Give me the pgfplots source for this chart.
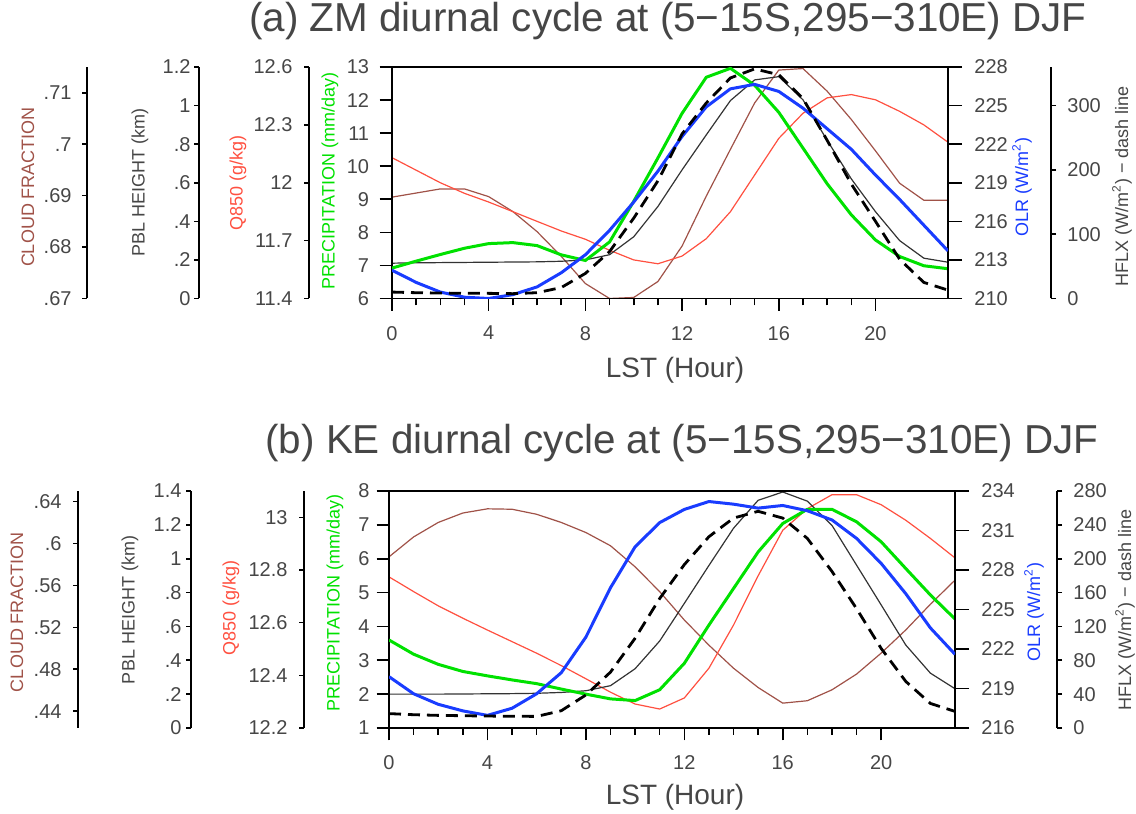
\documentclass[border=0pt]{standalone}
\usepackage{fontspec}
\setmainfont{Liberation Sans}
\usepackage{pgfplots}
\pgfplotsset{compat=1.18}
\usepackage{pgfplotstable}

\definecolor{cfbrown}{RGB}{160,82,72}
\definecolor{qred}{RGB}{255,80,64}
\definecolor{prgreen}{RGB}{0,225,0}
\definecolor{olrblue}{RGB}{25,60,255}
\definecolor{txtgray}{RGB}{70,70,70}

% ZM run, DJF, 5-15S 295-310E
\pgfplotstableread{
h  cld    pbl   q      pr     olr     hf
0  .6897  .183  12.13  6.92   212.2   10
1  .6905  .185  12.065 7.13   211.25  9
2  .6913  .186  12.0   7.33   210.5   8.5
3  .6913  .187  11.945 7.52   210.1   8
4  .6898  .188  11.9   7.66   210.0   8
5  .6869  .189  11.85  7.69   210.3   7.5
6  .683   .190  11.8   7.6    210.9   9
7  .6782  .193  11.75  7.32   212.0   17
8  .6729  .20   11.707 7.15   213.4   39
9  .6700  .227  11.65  7.71   215.3   73
10 .6702  .32   11.60  8.94   217.5   125
11 .6733  .477  11.58  10.25  219.9   183
12 .6802  .667  11.62  11.6   222.6   256
13 .6899  .848  11.71  12.69  224.9   304
14 .699   1.026 11.85  12.96  226.3   343
15 .708   1.133 12.04  12.45  226.65  357
16 .7144  1.15  12.23  11.63  226.1   348
17 .7147  1.03  12.36  10.55  224.8   311
18 .7103  .82   12.44  9.47   223.2   246
19 .7048  .62   12.457 8.53   221.6   178
20 .6987  .45   12.43  7.77   219.6   120
21 .6924  .30   12.37  7.27   217.7   61
22 .6891  .209  12.3   6.99   215.7   25
23 .6891  .188  12.21  6.9    213.7   13
}\zmdata

% KE run
\pgfplotstableread{
h  cld    pbl   q      pr     olr     hf
0  .5872  .20   12.774 3.6    219.9   17
1  .6062  .20   12.718 3.18   218.6   15.7
2  .62    .20   12.664 2.88   217.8   14.9
3  .629   .201  12.617 2.67   217.3   14.5
4  .633   .202  12.572 2.54   216.96  14.1
5  .6326  .203  12.528 2.42   217.5   13.9
6  .6278  .205  12.484 2.31   218.6   13.7
7  .62    .21   12.437 2.15   220.2   20.4
8  .6104  .22   12.387 2.0    222.9   39
9  .5978  .25   12.336 1.86   226.65  66
10 .5777  .35   12.291 1.81   229.76  106
11 .554   .514  12.272 2.13   231.6   153
12 .527   .736  12.314 2.91   232.6   193
13 .503   .96   12.427 4.04   233.2   226
14 .481   1.18  12.591 5.12   233.0   248
15 .4626  1.345 12.778 6.2    232.7   256
16 .4477  1.394 12.951 7.04   232.9   248
17 .45    1.34  13.033 7.46   232.5   224
18 .4604  1.197 13.086 7.46   231.8   185
19 .4754  .962  13.086 7.09   230.4   141
20 .4954  .727  13.048 6.5    228.5   94
21 .5175  .49   12.989 5.71   226.2   55
22 .542   .324  12.92  4.93   223.6   29
23 .565   .232  12.846 4.22   221.6   19.6
}\kedata

\pgfplotsset{
  every axis/.append style={
    scale only axis, xmin=0, xmax=23,
    /pgf/number format/assume math mode=true,
    tick label style={font=\fontsize{10}{12}\selectfont, text=txtgray},
    axis line style={line width=0.9pt},
    every tick/.style={black, line width=0.8pt},
  },
  dataax/.style={hide axis},
  sideL/.style={width=1pt, xmin=0, xmax=1, axis x line=none, axis y line*=left,
    tick align=outside, major tick length=2.5pt},
  sideR/.style={width=1pt, xmin=0, xmax=1, axis x line=none, axis y line*=right,
    tick align=outside, major tick length=2.5pt},
  thin/.style={line width=0.6pt},
  thick/.style={line width=1.5pt},
}

\tikzset{lab/.style={rotate=90, font=\fontsize{9}{11}\selectfont, anchor=center}}

\begin{document}
\begin{tikzpicture}
\useasboundingbox (0,0) rectangle (568pt,407pt);

% ================= panel (a)
\begin{axis}[dataax, at={(196pt,257.75pt)}, anchor=south west, width=278pt, height=115.75pt, ymin=.67, ymax=.715]
\addplot[cfbrown, thin] table[x=h, y=cld] {\zmdata};
\end{axis}
\begin{axis}[dataax, at={(196pt,257.75pt)}, anchor=south west, width=278pt, height=115.75pt, ymin=11.4, ymax=12.6]
\addplot[qred, thin] table[x=h, y=q] {\zmdata};
\end{axis}
\begin{axis}[dataax, at={(196pt,257.75pt)}, anchor=south west, width=278pt, height=115.75pt, ymin=0, ymax=1.2]
\addplot[black!80, thin] table[x=h, y=pbl] {\zmdata};
\end{axis}
\begin{axis}[at={(196pt,257.75pt)}, anchor=south west, width=278pt, height=115.75pt,
  ymin=6, ymax=13, ytick={6,...,13}, xtick={0,4,...,20}, minor x tick num=3,
  xtick pos=bottom, ytick pos=left, tick align=outside,
  major tick length=6.25pt, minor tick length=3.5pt,
  xticklabel style={yshift=-4pt}, yticklabel style={xshift=-1.7pt}]
\addplot[prgreen, thick] table[x=h, y=pr] {\zmdata};
\end{axis}
\begin{axis}[at={(196pt,257.75pt)}, anchor=south west, width=278pt, height=115.75pt,
  ymin=210, ymax=228, ytick={210,213,...,228}, axis x line=none, axis y line*=right,
  tick align=outside, major tick length=7pt, yticklabel style={xshift=2.7pt}]
\addplot[olrblue, thick] table[x=h, y=olr] {\zmdata};
\end{axis}
\begin{axis}[dataax, at={(196pt,257.75pt)}, anchor=south west, width=278pt, height=115.75pt, ymin=0, ymax=360]
\addplot[black, line width=1.4pt, dash pattern=on 6pt off 3.5pt] table[x=h, y=hf] {\zmdata};
\end{axis}
% side axes (a)
\begin{axis}[sideL, at={(43.5pt,257.75pt)}, anchor=south west, height=115.75pt,
  ymin=.67, ymax=.715, ytick={.67,.68,.69,.70,.71}, yticklabels={.67,.68,.69,.7,.71},
  yticklabel style={xshift=-1.7pt}]
\end{axis}
\begin{axis}[sideL, at={(99.5pt,257.75pt)}, anchor=south west, height=115.75pt,
  ymin=0, ymax=1.2, ytick={0,.2,.4,.6,.8,1,1.2}, yticklabels={0,.2,.4,.6,.8,1,1.2},
  yticklabel style={xshift=1.8pt}]
\end{axis}
\begin{axis}[sideL, at={(154.5pt,257.75pt)}, anchor=south west, height=115.75pt,
  ymin=11.4, ymax=12.6, ytick={11.4,11.7,12,12.3,12.6}, yticklabels={11.4,11.7,12,12.3,12.6},
  yticklabel style={xshift=-2.2pt}]
\end{axis}
\begin{axis}[sideR, at={(525.5pt,257.75pt)}, anchor=south east, height=115.75pt,
  ymin=0, ymax=360, ytick={0,100,200,300}, yticklabel style={xshift=2.2pt}]
\end{axis}

\node[font=\fontsize{20.2}{23}\selectfont, text=txtgray] at (334pt,396.5pt) {(a) ZM diurnal cycle at (5−15S,295−310E) DJF};
\node[lab, text=cfbrown] at (14pt,313.5pt) {CLOUD FRACTION};
\node[lab, text=txtgray] at (70pt,315.5pt) {PBL HEIGHT (km)};
\node[lab, text=qred] at (119pt,315.5pt) {Q850 (g/kg)};
\node[lab, text=prgreen] at (165pt,316.5pt) {PRECIPITATION (mm/day)};
\node[lab, text=olrblue] at (511pt,313.5pt) {OLR (W/m\textsuperscript{2})};
\node[lab, text=txtgray] at (561pt,313.75pt) {HFLX (W/m\textsuperscript{2}) − dash line};
\node[font=\fontsize{14}{16}\selectfont, text=txtgray] at (337.5pt,222pt) {LST (Hour)};

% ================= panel (b)
\begin{axis}[dataax, at={(194.5pt,43pt)}, anchor=south west, width=283pt, height=118.5pt, ymin=.424, ymax=.65]
\addplot[cfbrown, thin] table[x=h, y=cld] {\kedata};
\end{axis}
\begin{axis}[dataax, at={(194.5pt,43pt)}, anchor=south west, width=283pt, height=118.5pt, ymin=12.2, ymax=13.1]
\addplot[qred, thin] table[x=h, y=q] {\kedata};
\end{axis}
\begin{axis}[dataax, at={(194.5pt,43pt)}, anchor=south west, width=283pt, height=118.5pt, ymin=0, ymax=1.4]
\addplot[black!80, thin] table[x=h, y=pbl] {\kedata};
\end{axis}
\begin{axis}[at={(194.5pt,43pt)}, anchor=south west, width=283pt, height=118.5pt,
  ymin=1, ymax=8, ytick={1,...,8}, xtick={0,4,...,20}, minor x tick num=3,
  xtick pos=bottom, ytick pos=left, tick align=outside,
  major tick length=6.25pt, minor tick length=3.5pt,
  xticklabel style={yshift=-4pt}, yticklabel style={xshift=0pt}]
\addplot[prgreen, thick] table[x=h, y=pr] {\kedata};
\end{axis}
\begin{axis}[at={(194.5pt,43pt)}, anchor=south west, width=283pt, height=118.5pt,
  ymin=216, ymax=234, ytick={216,219,...,234}, axis x line=none, axis y line*=right,
  tick align=outside, major tick length=7pt, yticklabel style={xshift=2.7pt}]
\addplot[olrblue, thick] table[x=h, y=olr] {\kedata};
\end{axis}
\begin{axis}[dataax, at={(194.5pt,43pt)}, anchor=south west, width=283pt, height=118.5pt, ymin=0, ymax=280]
\addplot[black, line width=1.4pt, dash pattern=on 6pt off 3.5pt] table[x=h, y=hf] {\kedata};
\end{axis}
% side axes (b)
\begin{axis}[sideL, at={(39pt,43pt)}, anchor=south west, height=118.5pt,
  ymin=.424, ymax=.65, ytick={.44,.48,.52,.56,.6,.64}, yticklabels={.44,.48,.52,.56,.6,.64},
  yticklabel style={xshift=-2.2pt}]
\end{axis}
\begin{axis}[sideL, at={(95.5pt,43pt)}, anchor=south west, height=118.5pt,
  ymin=0, ymax=1.4, ytick={0,.2,.4,.6,.8,1,1.2,1.4}, yticklabels={0,.2,.4,.6,.8,1,1.2,1.4},
  yticklabel style={xshift=1.3pt}]
\end{axis}
\begin{axis}[sideL, at={(152pt,43pt)}, anchor=south west, height=118.5pt,
  ymin=12.2, ymax=13.1, ytick={12.2,12.4,12.6,12.8,13}, yticklabels={12.2,12.4,12.6,12.8,13},
  yticklabel style={xshift=-2.2pt}]
\end{axis}
\begin{axis}[sideR, at={(528.5pt,43pt)}, anchor=south east, height=118.5pt,
  ymin=0, ymax=280, ytick={0,40,...,280}, yticklabel style={xshift=2.2pt}]
\end{axis}

\node[font=\fontsize{20.2}{23}\selectfont, text=txtgray] at (341pt,185.5pt) {(b) KE diurnal cycle at (5−15S,295−310E) DJF};
\node[lab, text=cfbrown] at (8.5pt,101pt) {CLOUD FRACTION};
\node[lab, text=txtgray] at (65pt,102pt) {PBL HEIGHT (km)};
\node[lab, text=qred] at (115.5pt,103pt) {Q850 (g/kg)};
\node[lab, text=prgreen] at (167.5pt,105.5pt) {PRECIPITATION (mm/day)};
\node[lab, text=olrblue] at (517pt,101pt) {OLR (W/m\textsuperscript{2})};
\node[lab, text=txtgray] at (562.5pt,102pt) {HFLX (W/m\textsuperscript{2}) − dash line};
\node[font=\fontsize{14}{16}\selectfont, text=txtgray] at (337.5pt,8.5pt) {LST (Hour)};
\end{tikzpicture}
\end{document}
